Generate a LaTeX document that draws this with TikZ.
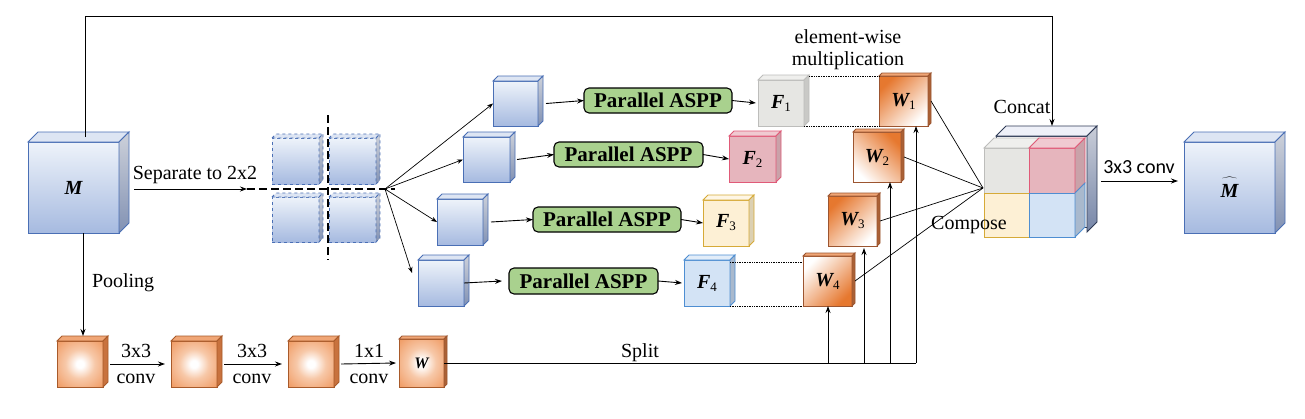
\documentclass[tikz,border=0pt]{standalone}
\usepackage{fontspec}
\setmainfont{Liberation Serif}
\newfontfamily\calibfont{Carlito}
\usetikzlibrary{arrows.meta,calc}
\definecolor{bEdge}{HTML}{4A6FB5}
\definecolor{bTop}{HTML}{EEF3FA}
\definecolor{bBot}{HTML}{A6BAE0}
\definecolor{bFace}{HTML}{DDE5F3}
\definecolor{bSideA}{HTML}{CDD1DA}
\definecolor{bSideB}{HTML}{8191B3}
\definecolor{oC}{HTML}{EE8E50}
\definecolor{oD}{HTML}{E47C3C}
\definecolor{oMid}{HTML}{F7C8A8}
\definecolor{oEdge}{HTML}{A85A2A}
\definecolor{oTop}{HTML}{F0A676}
\definecolor{oSide}{HTML}{C8723E}
\definecolor{wOr}{HTML}{E6782F}
\definecolor{wEdge}{HTML}{9C5530}
\definecolor{asppG}{HTML}{A9D18E}
\definecolor{gFill}{HTML}{E6E6E3}
\definecolor{gEdge}{HTML}{BDBDBB}
\definecolor{gTop}{HTML}{EFEFED}
\definecolor{gSide}{HTML}{C9C9C6}
\definecolor{pFill}{HTML}{E6B5BD}
\definecolor{pEdge}{HTML}{E05A78}
\definecolor{pTop}{HTML}{F0CAD1}
\definecolor{pSide}{HTML}{C9A2A9}
\definecolor{yFill}{HTML}{FDF0D5}
\definecolor{yEdge}{HTML}{D6AA38}
\definecolor{yTop}{HTML}{FEF6E5}
\definecolor{ySide}{HTML}{DCD0B2}
\definecolor{lFill}{HTML}{D3E3F5}
\definecolor{lEdge}{HTML}{4E8ED2}
\definecolor{lTop}{HTML}{E2EDF9}
\definecolor{lSide}{HTML}{A9B9CD}
\definecolor{kTop}{HTML}{EEF0F8}
\definecolor{kSideA}{HTML}{C9CDD8}
\definecolor{kSideB}{HTML}{7686A8}
\definecolor{kEdge}{HTML}{2E3A55}
\pgfdeclareradialshading{oglow}{\pgfpoint{0bp}{0bp}}{color(0bp)=(white); color(4bp)=(white); color(16bp)=(oMid); color(40bp)=(oC); color(75bp)=(oD)}
\newcommand\cubenode[7]{%
  \pgfmathsetmacro\cubeW{#5-#3}\pgfmathsetmacro\cubeH{#6-#4}%
  \pgfmathsetmacro\cubeX{(#3+#5)/2}\pgfmathsetmacro\cubeY{(#4+#6)/2}%
  \node[#1, minimum width=\cubeW, minimum height=\cubeH] (#2) at (\cubeX,\cubeY) {#7};}
\newcommand\topface[3]{%
  \path[#3] (#1.north west) -- ([shift={(#2,-#2)}]#1.north west) -- ([shift={(#2,-#2)}]#1.north east) -- (#1.north east) -- cycle;}
\newcommand\sideface[3]{%
  \path[#3] (#1.north east) -- ([shift={(#2,-#2)}]#1.north east) -- ([shift={(#2,-#2)}]#1.south east) -- (#1.south east) -- cycle;}
\newcommand\cubefaces[4]{\topface{#1}{#2}{#3}\sideface{#1}{#2}{#4}}
\newcommand\mlab[2]{{\fontsize{20}{20}\selectfont\bfseries\itshape #1}{\fontsize{13}{13}\selectfont\raisebox{-3pt}{#2}}}
\begin{document}
\begin{tikzpicture}[x=1pt,y=-1pt,
  every node/.style={inner sep=0pt, outer sep=0pt},
  arr/.style={-{Stealth[length=7pt,width=5pt]}, line width=0.9pt},
  thinarr/.style={-{Stealth[length=6pt,width=4.5pt]}, line width=0.7pt},
  ln/.style={line width=0.9pt},
  thinln/.style={line width=0.7pt},
  dotln/.style={densely dotted, line width=0.7pt},
  txt/.style={font=\fontsize{20}{23}\selectfont},
  bluecube/.style={draw=bEdge, line width=0.9pt, top color=bTop, bottom color=bBot},
  bluetopf/.style={draw=bEdge, line width=0.9pt, fill=bFace},
  bluesidef/.style={draw=bEdge, line width=0.9pt, top color=bSideA, bottom color=bSideB},
  dashcube/.style={bluecube, dashed},
  dashtopf/.style={bluetopf, dashed},
  dashsidef/.style={bluesidef, dashed},
  orcube/.style={draw=oEdge, line width=0.9pt, shading=oglow},
  ortopf/.style={draw=oEdge, line width=0.9pt, fill=oTop},
  orsidef/.style={draw=oEdge, line width=0.9pt, fill=oSide},
  wtopf/.style={draw=wEdge, line width=0.9pt, fill=oTop},
  wsidef/.style={draw=wEdge, line width=0.9pt, fill=oSide!85!black},
  wA/.style={draw=wEdge, line width=1pt, top color=wOr, bottom color=white, shading angle=45},
  wB/.style={draw=wEdge, line width=1pt, top color=wOr, bottom color=white, shading angle=-45},
  wC/.style={draw=wEdge, line width=1pt, top color=white, bottom color=wOr, shading angle=45},
  aspp/.style={draw=black, line width=1.1pt, fill=asppG, rounded corners=5pt, font=\fontsize{21}{21}\selectfont\bfseries},
  Fgrey/.style={draw=gEdge, fill=gFill, line width=0.9pt},
  FgreyT/.style={draw=gEdge, fill=gTop, line width=0.9pt},
  FgreyS/.style={draw=gEdge, fill=gSide, line width=0.9pt},
  Fpink/.style={draw=pEdge, fill=pFill, line width=0.9pt},
  FpinkT/.style={draw=pEdge, fill=pTop, line width=0.9pt},
  FpinkS/.style={draw=pEdge, fill=pSide, line width=0.9pt},
  Fyel/.style={draw=yEdge, fill=yFill, line width=0.9pt},
  FyelT/.style={draw=yEdge, fill=yTop, line width=0.9pt},
  FyelS/.style={draw=yEdge, fill=ySide, line width=0.9pt},
  Fblue/.style={draw=lEdge, fill=lFill, line width=0.9pt},
  FblueT/.style={draw=lEdge, fill=lTop, line width=0.9pt},
  FblueS/.style={draw=lEdge, fill=lSide, line width=0.9pt},
]
\useasboundingbox (0,0) rectangle (1305,418);
\fill[white] (0,0) rectangle (1305,418);

% ---- input M
\cubenode{bluecube}{M}{28}{142}{119}{233}{{\fontsize{20}{20}\selectfont\bfseries\itshape M}}
\cubefaces{M}{10}{bluetopf}{bluesidef}

% ---- output M hat
\cubenode{bluecube}{Mhat}{1184}{142}{1275}{233}{\makebox[0pt][l]{\raisebox{4pt}{$\widehat{\mbox{\fontsize{20}{20}\selectfont\phantom{M}}}$}}{\fontsize{20}{20}\selectfont\bfseries\itshape M}}
\cubefaces{Mhat}{10}{bluetopf}{bluesidef}

% ---- separated 2x2 dashed cubes
\cubenode{dashcube}{q1}{272}{138}{319}{184}{}
\cubefaces{q1}{4}{dashtopf}{dashsidef}
\cubenode{dashcube}{q2}{329}{138}{376}{184}{}
\cubefaces{q2}{4}{dashtopf}{dashsidef}
\cubenode{dashcube}{q3}{272}{197}{319}{242}{}
\cubefaces{q3}{4}{dashtopf}{dashsidef}
\cubenode{dashcube}{q4}{329}{197}{376}{242}{}
\cubefaces{q4}{4}{dashtopf}{dashsidef}

% ---- rows
\cubenode{bluecube}{c1}{493}{81}{538}{126}{}
\cubefaces{c1}{5}{bluetopf}{bluesidef}
\cubenode{bluecube}{c2}{463}{137}{510}{182}{}
\cubefaces{c2}{5}{bluetopf}{bluesidef}
\cubenode{bluecube}{c3}{437}{199}{483}{245}{}
\cubefaces{c3}{5}{bluetopf}{bluesidef}
\cubenode{bluecube}{c4}{418}{260}{464}{306}{}
\cubefaces{c4}{5}{bluetopf}{bluesidef}

\cubenode{aspp}{a1}{584}{88}{732}{113}{Parallel ASPP}
\cubenode{aspp}{a2}{554}{142}{703}{167}{Parallel ASPP}
\cubenode{aspp}{a3}{533}{207}{681}{232}{Parallel ASPP}
\cubenode{aspp}{a4}{509}{268}{658}{294}{Parallel ASPP}

\cubenode{Fgrey}{F1}{758}{80}{804}{126}{\mlab{F}{1}}
\cubefaces{F1}{5}{FgreyT}{FgreyS}
\cubenode{Fpink}{F2}{729}{136}{776}{182}{\mlab{F}{2}}
\cubefaces{F2}{5}{FpinkT}{FpinkS}
\cubenode{Fyel}{F3}{703}{200}{749}{246}{\mlab{F}{3}}
\cubefaces{F3}{5}{FyelT}{FyelS}
\cubenode{Fblue}{F4}{684}{260}{730}{306}{\mlab{F}{4}}
\cubefaces{F4}{5}{FblueT}{FblueS}

\cubenode{wA}{W1}{879}{76}{928}{126}{\mlab{W}{1}}
\cubefaces{W1}{3}{wtopf}{wsidef}
\cubenode{wB}{W2}{853}{132}{901}{182}{\mlab{W}{2}}
\cubefaces{W2}{3}{wtopf}{wsidef}
\cubenode{wA}{W3}{828}{196}{877}{246}{\mlab{W}{3}}
\cubefaces{W3}{3}{wtopf}{wsidef}
\cubenode{wC}{W4}{803}{256}{852}{306}{\mlab{W}{4}}
\cubefaces{W4}{3}{wtopf}{wsidef}

% ---- bottom chain
\cubenode{orcube}{o1}{57}{341}{103}{387}{}
\cubefaces{o1}{5}{ortopf}{orsidef}
\cubenode{orcube}{o2}{171}{341}{217}{387}{}
\cubefaces{o2}{5}{ortopf}{orsidef}
\cubenode{orcube}{o3}{288}{341}{334}{387}{}
\cubefaces{o3}{5}{ortopf}{orsidef}
\cubenode{orcube}{Wb}{399}{339}{444}{387}{{\fontsize{16}{16}\selectfont\bfseries\itshape W}}
\cubefaces{Wb}{3}{wtopf}{wsidef}

% ---- concat block
\path[draw=kEdge, line width=0.9pt, fill=white] (996,136) rectangle (1087,227);
\path[draw=kEdge, line width=0.9pt, fill=kTop] (996,136) -- (1006,126) -- (1097,126) -- (1087,136) -- cycle;
\path[draw=kEdge, line width=0.9pt, top color=kSideA, bottom color=kSideB] (1087,136) -- (1097,126) -- (1097,222) -- (1087,232) -- cycle;
\cubenode{Fgrey}{cg}{984}{148}{1029}{193}{}
\cubenode{Fpink}{cp}{1029}{148}{1075}{193}{}
\cubenode{Fyel}{cy}{984}{193}{1029}{237}{}
\cubenode{Fblue}{cb}{1029}{193}{1075}{237}{}
\topface{cg}{10}{FgreyT}
\topface{cp}{10}{FpinkT}
\sideface{cp}{10}{FpinkS}
\sideface{cb}{10}{FblueS}

% ---- coordinates
\coordinate (mtop) at (85,137);
\coordinate (catT) at (1052,126);
\coordinate (mbot) at (83,233);
\coordinate (sepA) at (134,189);
\coordinate (sepB) at (247,189);
\coordinate (fan) at (385,189);
\coordinate (cmp) at (983,188);
\coordinate (cvA) at (1101,181);
\coordinate (s1) at (916,363);
\coordinate (s2) at (890,363);
\coordinate (s3) at (864,363);
\coordinate (s4) at (828,363);

% ---- connectors
\draw[arr] (mtop) -- (85,16) -| (catT);
\draw[arr] (mbot) -- ++(0,103);
\draw[arr] (sepA) -- (sepB);
\draw[line width=2.2pt, dash pattern=on 8pt off 4pt] (sepB) -- (395,189);
\draw[line width=2.2pt, dash pattern=on 8pt off 4pt] (328,115) -- (328,260);

\draw[thinarr] (fan) -- (c1.west);
\draw[thinarr] (fan) -- (c2.west);
\draw[thinarr] (fan) -- (c3.west);
\draw[thinarr] (fan) -- ([shift={(-6,-10)}]c4.west);

\draw[arr] ([xshift=8]c1.east) -- (a1.west);
\draw[arr] ([xshift=7]c2.east) -- (a2.west);
\draw[arr] ([xshift=8]c3.east) -- (a3.west);
\draw[arr] (c4.east) -- ([xshift=-7]a4.west);
\draw[arr] (a1.east) -- ([xshift=-2]F1.west);
\draw[arr] (a2.east) -- (F2.west);
\draw[arr] (a3.east) -- (F3.west);
\draw[arr] (a4.east) -- ([xshift=-2]F4.west);

\draw[dotln] ([shift={(5,-4)}]F1.north east) -- (W1.north west);
\draw[dotln] (F1.south east) -- (W1.south west);
\draw[dotln] ([yshift=-2]F4.north east) -- ([yshift=-2]F4.north east -| W4.west);
\draw[dotln] (F4.south east) -- (W4.south west);

\draw[thinln] ([xshift=3]W1.east) -- (cmp);
\draw[thinln] ([xshift=3]W2.east) -- (cmp);
\draw[thinln] ([xshift=3]W3.east) -- (cmp);
\draw[thinln] ([xshift=3]W4.east) -- (cmp);

\draw[arr] ([xshift=7]o1.east) -- ([xshift=-6]o2.west);
\draw[arr] ([xshift=7]o2.east) -- ([xshift=-6]o3.west);
\draw[arr] ([xshift=7]o3.east) -- ([xshift=-3]Wb.west);
\draw[ln] (Wb.east |- s1) -- (s1);
\draw[arr] (s1) -- (s1 |- W1.south);
\draw[arr] (s2) -- (s2 |- W2.south);
\draw[arr] (s3) -- ([yshift=-2]s3 |- W3.south);
\draw[arr] (s4) -- (s4 |- W4.south);

\draw[arr] (cvA) -- ([xshift=-6]cvA -| Mhat.west);

% ---- labels
\node[txt, anchor=base] (tsep) at (195,179) {Separate to 2x2};
\node[txt, anchor=base west] (tpool) at (92,287) {Pooling};
\node[txt, anchor=base] (tc1a) at (136,357) {3x3};
\node[txt, anchor=base] (tc1b) at (136,383) {conv};
\node[txt, anchor=base] (tc2a) at (252,357) {3x3};
\node[txt, anchor=base] (tc2b) at (252,383) {conv};
\node[txt, anchor=base] (tc3a) at (369,357) {1x1};
\node[txt, anchor=base] (tc3b) at (369,383) {conv};
\node[txt, anchor=base] (tsplit) at (640,357) {Split};
\node[txt, anchor=base] (tel1) at (848,43) {element-wise};
\node[txt, anchor=base] (tel2) at (848,65) {multiplication};
\node[txt, anchor=base] (tcat) at (1022,113) {Concat};
\node[txt, anchor=base] (tcomp) at (969,229) {Compose};
\node[font=\calibfont\fontsize{20}{20}\selectfont, anchor=base] (tconv) at (1139,173) {3x3 conv};
\end{tikzpicture}
\end{document}
